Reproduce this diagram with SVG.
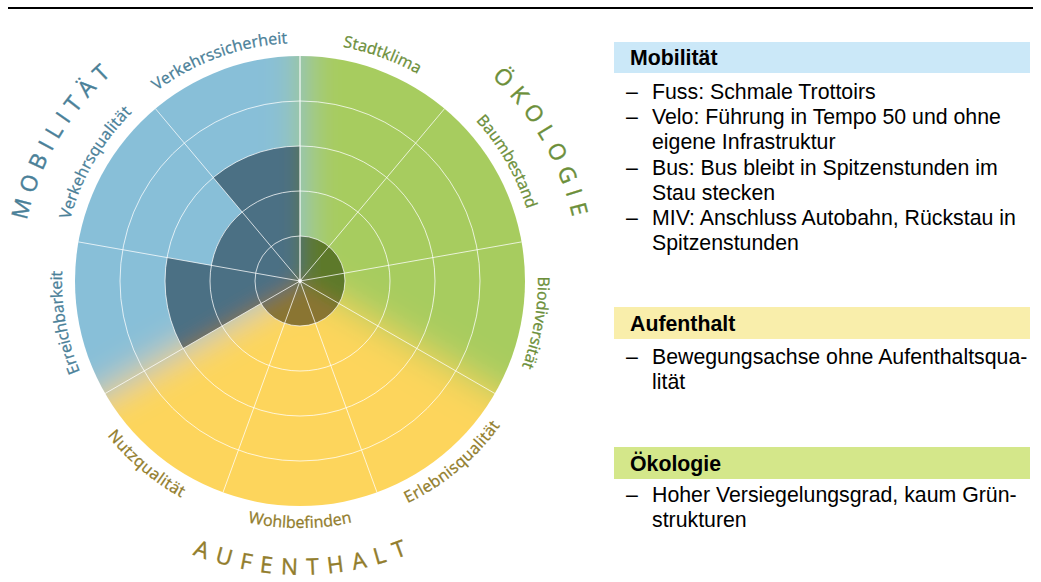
<svg xmlns="http://www.w3.org/2000/svg" width="1041" height="582" viewBox="0 0 1041 582">
<style>
.lbl{font-family:"Open Sans","Noto Sans","DejaVu Sans",sans-serif;font-size:16px;stroke-width:0.3px;}
.cat{font-family:"Open Sans","Noto Sans","DejaVu Sans",sans-serif;font-size:22.5px;stroke-width:0.4px;}
.mob{fill:#4a8098;stroke:#4a8098;}
.oek{fill:#6c8f3a;stroke:#6c8f3a;}
.auf{fill:#927d2c;stroke:#927d2c;}
.grid{fill:none;stroke:#ffffff;stroke-opacity:0.75;stroke-width:1;}
.pt{font-family:"Liberation Sans",Arial,sans-serif;font-size:21.3px;fill:#000;}
.hd{font-weight:bold;}
</style>
<defs>
<filter id="soft" filterUnits="userSpaceOnUse" x="-40" y="-60" width="680" height="680"><feGaussianBlur stdDeviation="18"/></filter>
<filter id="soft2" filterUnits="userSpaceOnUse" x="-40" y="-60" width="680" height="680"><feGaussianBlur stdDeviation="10"/></filter>
<clipPath id="disc"><circle cx="300" cy="281" r="225"/></clipPath>
<clipPath id="darkclip"><path d="M300,281 L183.1,348.5 A135,135 0 0 1 167.1,257.6 L211.4,265.4 A90,90 0 0 1 242.1,212.1 L213.2,177.6 A135,135 0 0 1 300,146 Z"/><circle cx="300" cy="281" r="45"/></clipPath>
<path id="p-vs" d="M93.9,162 A238,238 0 0 1 381.4,57.4"/>
<path id="p-sk" d="M218.6,57.4 A238,238 0 0 1 506.1,162"/>
<path id="p-bb" d="M381.4,57.4 A238,238 0 0 1 534.4,322.3"/>
<path id="p-bd" d="M506.1,162 A238,238 0 0 1 453,463.3"/>
<path id="p-eb" d="M147,463.3 A238,238 0 0 1 93.9,162"/>
<path id="p-vq" d="M65.6,322.3 A238,238 0 0 1 218.6,57.4"/>
<path id="p-el" d="M300,528 A247,247 0 0 0 543.2,323.9"/>
<path id="p-wb" d="M141.2,470.2 A247,247 0 0 0 458.8,470.2"/>
<path id="p-nq" d="M56.8,323.9 A247,247 0 0 0 300,528"/>
<path id="p-mob" d="M36.9,376.8 A280,280 0 0 1 251.4,5.3"/>
<path id="p-oek" d="M348.6,5.3 A280,280 0 0 1 563.1,376.8"/>
<path id="p-auf" d="M74.8,470.0 A294.5,294.5 0 0 0 525.2,470.0"/>
</defs>

<line id="top-rule" x1="8" y1="8" x2="1033" y2="8" stroke="#000" stroke-width="2"/>

<g id="wheel">
  <g clip-path="url(#disc)">
    <g filter="url(#soft)">
      <path d="M300,281 L40.2,431 A300,300 0 0 1 300,-19 Z" fill="#88bfd8"/>
      <path d="M300,281 L300,-19 A300,300 0 0 1 559.8,431 Z" fill="#a7cc5f"/>
      <path d="M300,281 L559.8,431 A300,300 0 0 1 40.2,431 Z" fill="#fdd55b"/>
    </g>
  </g>
  <g clip-path="url(#darkclip)">
    <g filter="url(#soft2)">
      <path d="M300,281 L40.2,431 A300,300 0 0 1 300,-19 Z" fill="#4c6f84"/>
      <path d="M300,281 L300,-19 A300,300 0 0 1 559.8,431 Z" fill="#5d792c"/>
      <path d="M300,281 L559.8,431 A300,300 0 0 1 40.2,431 Z" fill="#8a7431"/>
    </g>
  </g>
  <g id="grid" class="grid">
    <circle cx="300" cy="281" r="45"/>
    <circle cx="300" cy="281" r="90"/>
    <circle cx="300" cy="281" r="135"/>
    <circle cx="300" cy="281" r="180"/>
    <line x1="300" y1="281" x2="300" y2="56" stroke-width="1.5"/>
    <line x1="300" y1="281" x2="444.6" y2="108.6"/>
    <line x1="300" y1="281" x2="521.6" y2="241.9"/>
    <line x1="300" y1="281" x2="494.9" y2="393.5"/>
    <line x1="300" y1="281" x2="377" y2="492.4"/>
    <line x1="300" y1="281" x2="223" y2="492.4"/>
    <line x1="300" y1="281" x2="105.1" y2="393.5"/>
    <line x1="300" y1="281" x2="78.4" y2="241.9"/>
    <line x1="300" y1="281" x2="155.4" y2="108.6"/>
  </g>
  <circle cx="300" cy="281" r="2" fill="#fff" fill-opacity="0.8"/>
</g>

<g id="labels">
  <text class="lbl mob"><textPath href="#p-vs" startOffset="50%" text-anchor="middle" textLength="141" lengthAdjust="spacing">Verkehrssicherheit</textPath></text>
  <text class="lbl mob"><textPath href="#p-vq" startOffset="50%" text-anchor="middle" textLength="125" lengthAdjust="spacing">Verkehrsqualität</textPath></text>
  <text class="lbl mob"><textPath href="#p-eb" startOffset="50%" text-anchor="middle" textLength="103" lengthAdjust="spacing">Erreichbarkeit</textPath></text>
  <text class="lbl oek"><textPath href="#p-sk" startOffset="50%" text-anchor="middle" textLength="80" lengthAdjust="spacing">Stadtklima</textPath></text>
  <text class="lbl oek"><textPath href="#p-bb" startOffset="50%" text-anchor="middle" textLength="103" lengthAdjust="spacing">Baumbestand</textPath></text>
  <text class="lbl oek"><textPath href="#p-bd" startOffset="50%" text-anchor="middle" textLength="92" lengthAdjust="spacing">Biodiversität</textPath></text>
  <text class="lbl auf"><textPath href="#p-el" startOffset="50%" text-anchor="middle" textLength="122" lengthAdjust="spacing">Erlebnisqualität</textPath></text>
  <text class="lbl auf"><textPath href="#p-wb" startOffset="50%" text-anchor="middle" textLength="105" lengthAdjust="spacing">Wohlbefinden</textPath></text>
  <text class="lbl auf"><textPath href="#p-nq" startOffset="50%" text-anchor="middle" textLength="97" lengthAdjust="spacing">Nutzqualität</textPath></text>
  <text class="cat mob"><textPath href="#p-mob" startOffset="50%" text-anchor="middle" textLength="171" lengthAdjust="spacing">MOBILITÄT</textPath></text>
  <text class="cat oek"><textPath href="#p-oek" startOffset="50%" text-anchor="middle" textLength="164" lengthAdjust="spacing">ÖKOLOGIE</textPath></text>
  <text class="cat auf"><textPath href="#p-auf" startOffset="50%" text-anchor="middle" textLength="220" lengthAdjust="spacing">AUFENTHALT</textPath></text>
</g>

<g id="panel-mobilitaet">
  <rect x="614" y="42" width="416" height="31" fill="#cbe8f8"/>
  <text class="pt hd" x="630" y="64.5">Mobilität</text>
  <text class="pt" x="626" y="98.5">–</text><text class="pt" x="652" y="98.5">Fuss: Schmale Trottoirs</text>
  <text class="pt" x="626" y="123.8">–</text><text class="pt" x="652" y="123.8">Velo: Führung in Tempo 50 und ohne</text>
  <text class="pt" x="652" y="149">eigene Infrastruktur</text>
  <text class="pt" x="626" y="174.5">–</text><text class="pt" x="652" y="174.5">Bus: Bus bleibt in Spitzenstunden im</text>
  <text class="pt" x="652" y="199.8">Stau stecken</text>
  <text class="pt" x="626" y="225">–</text><text class="pt" x="652" y="225">MIV: Anschluss Autobahn, Rückstau in</text>
  <text class="pt" x="652" y="250.3">Spitzenstunden</text>
</g>

<g id="panel-aufenthalt">
  <rect x="614" y="307" width="416" height="32" fill="#f9eeab"/>
  <text class="pt hd" x="630" y="331">Aufenthalt</text>
  <text class="pt" x="626" y="363.5">–</text><text class="pt" x="652" y="363.5">Bewegungsachse ohne Aufenthaltsqua-</text>
  <text class="pt" x="652" y="388.5">lität</text>
</g>

<g id="panel-oekologie">
  <rect x="614" y="447" width="416" height="32" fill="#d4e78a"/>
  <text class="pt hd" x="630" y="470.5">Ökologie</text>
  <text class="pt" x="626" y="502">–</text><text class="pt" x="652" y="502">Hoher Versiegelungsgrad, kaum Grün-</text>
  <text class="pt" x="652" y="527">strukturen</text>
</g>
</svg>
